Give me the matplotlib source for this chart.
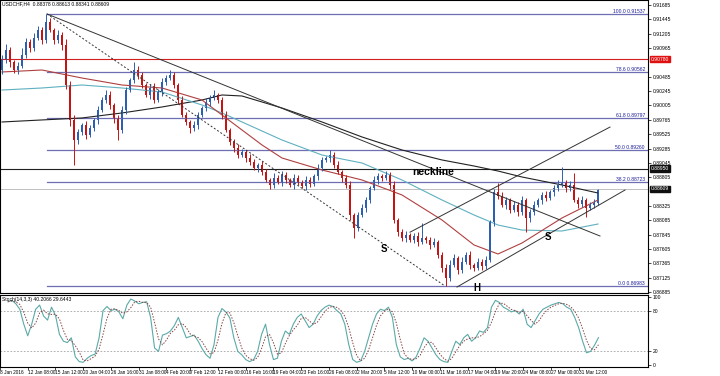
import numpy as np
import pandas as pd
import matplotlib
matplotlib.use("Agg")
import matplotlib.pyplot as plt

# USDCHF H4 closes
first_open = 0.90599
closes = [
    0.90767, 0.90934, 0.90733, 0.90599, 0.90666, 0.90850, 0.91068, 0.90967, 0.91135, 0.91269,
    0.91101, 0.91403, 0.91269, 0.91101, 0.91185, 0.91018, 0.90348, 0.89763, 0.89427, 0.89561,
    0.89679, 0.89511, 0.89628, 0.89763, 0.89930, 0.90097, 0.90181, 0.90013, 0.89796, 0.89595,
    0.89930, 0.90264, 0.90432, 0.90599, 0.90516, 0.90348, 0.90181, 0.90298, 0.90097, 0.90231,
    0.90398, 0.90465, 0.90516, 0.90348, 0.90097, 0.89846, 0.89729, 0.89628, 0.89679, 0.89846,
    0.89963, 0.90064, 0.90131, 0.90181, 0.90097, 0.89846, 0.89595, 0.89394, 0.89293, 0.89176,
    0.89226, 0.89126, 0.89059, 0.88959, 0.89009, 0.88892, 0.88758, 0.88674, 0.88791, 0.88724,
    0.88841, 0.88758, 0.88674, 0.88791, 0.88724, 0.88657, 0.88758, 0.88691, 0.88825, 0.88959,
    0.89093, 0.89126, 0.89176, 0.89009, 0.88892, 0.88791, 0.88674, 0.88172, 0.87954, 0.88172,
    0.88289, 0.88423, 0.88624, 0.88758, 0.88825, 0.88791, 0.88841, 0.88674, 0.88088, 0.87887,
    0.87787, 0.87837, 0.87753, 0.87820, 0.87720, 0.87787, 0.87753, 0.87670, 0.87720, 0.87502,
    0.87285, 0.87117, 0.87335, 0.87452, 0.87251, 0.87385, 0.87502, 0.87335, 0.87285, 0.87385,
    0.87318, 0.87418, 0.88055, 0.88557, 0.88490, 0.88339, 0.88423, 0.88256, 0.88339, 0.88222,
    0.88423, 0.88122, 0.88222, 0.88339, 0.88423, 0.88507, 0.88456, 0.88557, 0.88624, 0.88674,
    0.88707, 0.88624, 0.88674, 0.88423, 0.88356, 0.88423, 0.88289, 0.88339, 0.88378, 0.88609,
]
# wick lengths in pips above / below the body
wick_up = [
    8, 10, 5, 4, 6, 12, 6, 5, 8, 6,
    5, 14, 6, 4, 8, 5, 10, 6, 8, 5,
    4, 6, 5, 4, 6, 5, 8, 6, 4, 5,
    6, 5, 4, 13, 6, 5, 4, 6, 8, 5,
    6, 5, 8, 5, 4, 6, 5, 4, 6, 5,
    4, 6, 5, 8, 4, 5, 6, 4, 5, 6,
    5, 4, 6, 5, 4, 6, 5, 4, 8, 5,
    6, 5, 4, 6, 5, 4, 6, 5, 4, 6,
    5, 4, 8, 5, 6, 4, 5, 6, 4, 5,
    6, 5, 4, 6, 5, 4, 7, 5, 6, 4,
    5, 6, 4, 5, 6, 25, 4, 5, 6, 4,
    5, 6, 8, 6, 4, 8, 5, 6, 4, 6,
    5, 6, 4, 5, 15, 6, 5, 4, 6, 5,
    6, 4, 5, 6, 4, 5, 6, 4, 5, 8,
    27, 5, 6, 20, 5, 6, 4, 5, 6, 0.4,
]
wick_dn = [
    6, 5, 8, 5, 6, 4, 5, 6, 5, 4,
    6, 5, 4, 6, 5, 8, 6, 10, 42, 6,
    5, 6, 4, 5, 6, 4, 5, 6, 8, 17,
    5, 6, 4, 5, 6, 5, 4, 6, 5, 4,
    6, 5, 4, 5, 6, 4, 5, 8, 5, 6,
    4, 5, 6, 4, 5, 6, 4, 5, 6, 5,
    4, 6, 5, 4, 6, 5, 4, 6, 5, 4,
    6, 5, 4, 6, 5, 4, 6, 5, 4, 6,
    5, 4, 6, 5, 4, 6, 5, 8, 17, 5,
    4, 6, 5, 4, 6, 5, 4, 6, 5, 6,
    5, 6, 4, 5, 6, 4, 5, 6, 4, 5,
    6, 13, 5, 4, 6, 5, 4, 6, 5, 4,
    6, 5, 4, 6, 5, 4, 6, 5, 4, 6,
    5, 23, 6, 5, 4, 6, 5, 4, 6, 5,
    4, 6, 5, 4, 6, 5, 15, 4, 5, 3.7,
]

# moving averages, sampled at these bars
ma_idx = [0, 10, 20, 30, 40, 50, 55, 60, 65, 70, 80, 90, 100, 110, 118, 124, 130, 140, 149]
ma_red = [0.90566, 0.90599, 0.90465, 0.90348, 0.90298, 0.90097, 0.89846, 0.89595, 0.89344,
          0.89126, 0.88925, 0.88758, 0.88507, 0.88088, 0.87670, 0.87519, 0.87703, 0.88122,
          0.88423]
ma_teal = [0.90264, 0.90298, 0.90348, 0.90298, 0.90231, 0.90013, 0.89880, 0.89729, 0.89578,
           0.89427, 0.89176, 0.89042, 0.88758, 0.88423, 0.88172, 0.88004, 0.87920, 0.87904,
           0.88021]
ma_black = [0.89729, 0.89763, 0.89796, 0.89880, 0.89980, 0.90097, 0.90181, 0.90164, 0.90064,
            0.89963, 0.89729, 0.89478, 0.89260, 0.89093, 0.88992, 0.88908, 0.88808, 0.88674,
            0.88540]

# Stoch(14,3,3) main line
stoch_k = [
    93, 95, 90, 82, 60, 43, 60, 82, 88, 72,
    66, 85, 73, 45, 35, 33, 40, 12, 5, 4,
    10, 14, 16, 40, 80, 86, 80, 82, 78, 68,
    88, 97, 94, 90, 92, 93, 70, 25, 20, 44,
    46, 50, 58, 70, 55, 40, 42, 44, 35, 24,
    15, 10, 30, 70, 83, 78, 69, 40, 20, 15,
    8, 5, 8, 20, 45, 60, 30, 8, 10, 35,
    50, 45, 60, 70, 75, 65, 55, 60, 72, 80,
    85, 88, 86, 80, 75, 60, 30, 8, 4, 6,
    20, 40, 60, 75, 82, 80, 85, 70, 30, 12,
    8, 10, 6, 12, 25, 40, 35, 25, 15, 8,
    5, 4, 20, 35, 30, 40, 45, 35, 40, 50,
    48, 55, 85, 95, 92, 85, 82, 78, 80, 75,
    82, 60, 55, 65, 75, 82, 85, 88, 90, 92,
    90, 85, 82, 70, 55, 35, 18, 20, 29, 40.2,
]
stoch_title = "Stoch(14,3,3) 40.2066 29.6443"

# drawn objects: fibo, trend lines, horizontal lines
fib_high = 0.91537
fib_low = 0.86983
fib_levels = [100.0, 78.6, 61.8, 50.0, 38.2, 0.0]
fib_start = 11.25
trend_down = ([11.25, 149.5], [0.91537, 0.87820])
channel_dot = ([11.25, 110.75], [0.91537, 0.86983])
rise_upper = ([102.0, 152.0], [0.87884, 0.89644])
rise_lower = ([113.75, 155.75], [0.86966, 0.88590])
line_red = 0.90780
line_black = 0.88950
last_price = 0.88609

price_ticks = [0.86885, 0.87125, 0.87365, 0.87605, 0.87845, 0.88085, 0.88325, 0.88805,
               0.89045, 0.89285, 0.89525, 0.89765, 0.90005, 0.90245, 0.90485, 0.90965,
               0.91205, 0.91445, 0.91685]
date_ticks = [-2, 5, 12, 19, 26, 33, 40, 46, 53, 60, 67, 74, 81, 88, 95, 102, 109, 116,
              123, 130, 137, 144]
date_labels = ["8 Jan 2016", "12 Jan 08:00", "15 Jan 12:00", "20 Jan 04:00", "26 Jan 16:00",
               "31 Jan 08:00", "4 Feb 20:00", "7 Feb 12:00", "12 Feb 00:00", "16 Feb 16:00",
               "19 Feb 04:00", "23 Feb 16:00", "26 Feb 08:00", "2 Mar 20:00", "5 Mar 12:00",
               "10 Mar 00:00", "11 Mar 16:00", "17 Mar 04:00", "19 Mar 20:00", "24 Mar 08:00",
               "27 Mar 00:00", "31 Mar 12:00"]

BULL = "#2d5fb0"
BEAR = "#c41414"
FIB = "#6e6eb4"
SMALL = 3.6

plt.rcParams["font.family"] = ["Liberation Sans", "DejaVu Sans"]
fig = plt.figure(figsize=(7.2, 3.76), dpi=100)
ax = fig.add_axes([0, 1 - 293 / 376, 0.9, 293 / 376])
ax2 = fig.add_axes([0, 9 / 376, 0.9, 72 / 376])

closes = np.array(closes)
opens = np.concatenate([[first_open], closes[:-1]])
highs = np.maximum(opens, closes) + np.array(wick_up) * 1e-4
lows = np.minimum(opens, closes) - np.array(wick_dn) * 1e-4
x = np.arange(len(closes))
cols = np.where(closes >= opens, BULL, BEAR)

# horizontal lines first so candles sit on top
for r in fib_levels:
    lvl = fib_low + (fib_high - fib_low) * r / 100
    ax.plot([fib_start, 161.5], [lvl, lvl], color=FIB, lw=0.9)
    ax.text(160.7, lvl + 0.00006, f"{r:.1f} {lvl:.5f}", fontsize=SMALL, color="#1c1c9c",
            ha="right", va="bottom")
ax.axhline(line_red, color="#d02020", lw=0.8)
ax.axhline(line_black, color="#202020", lw=0.8)
ax.axhline(last_price, color="#c0c0c0", lw=0.7)

ax.plot(ma_idx, ma_black, color="#222222", lw=0.8)
ax.plot(ma_idx, ma_teal, color="#5fb0c0", lw=0.8)
ax.plot(ma_idx, ma_red, color="#b04040", lw=0.8)

ax.vlines(x, lows, highs, colors=cols, lw=0.7)
ax.bar(x, np.abs(closes - opens) + 0.00003, bottom=np.minimum(opens, closes), width=0.6,
       color=cols, linewidth=0)

ax.plot(*trend_down, color="#333333", lw=0.7)
ax.plot(*channel_dot, color="#333333", lw=0.7, ls=(0, (2, 2)))
ax.plot(*rise_upper, color="#333333", lw=0.7)
ax.plot(*rise_lower, color="#333333", lw=0.7)

ax.text(102.5, 0.8889, "neckline", fontsize=7.5, fontweight="bold", va="center")
ax.text(95.5, 0.8760, "S", fontsize=7, fontweight="bold", ha="center", va="center")
ax.text(136.5, 0.8781, "S", fontsize=7, fontweight="bold", ha="center", va="center")
ax.text(118.8, 0.8695, "H", fontsize=7, fontweight="bold", ha="center", va="center")

ax.text(0.003, 0.995, "USDCHF,H4  0.88378 0.88613 0.88341 0.88609", transform=ax.transAxes,
        fontsize=SMALL, va="top")

ax.set_xlim(-0.5, 161.5)
ax.set_ylim(0.86866, 0.91771)
ax.yaxis.tick_right()
ax.set_yticks(price_ticks)
ax.set_yticklabels([f"{p:.5f}" for p in price_ticks])
ax.tick_params(axis="y", labelsize=SMALL, length=2, width=0.5, pad=1.5)
ax.set_xticks([])
for s in ax.spines.values():
    s.set_linewidth(0.8)

for val, fc in [(line_red, "#e01010"), (line_black, "#101010"), (last_price, "#101010")]:
    ax.annotate(f"{val:.5f}", xy=(1.0, val), xycoords=("axes fraction", "data"),
                xytext=(2, 0), textcoords="offset points", fontsize=SMALL, color="white",
                va="center", ha="left",
                bbox=dict(boxstyle="square,pad=0.15", fc=fc, ec=fc))

# stochastic panel
k = pd.Series(stoch_k)
d = k.rolling(3, min_periods=1).mean()
ax2.axhline(80, color="#a0a0a0", lw=0.6, ls=(0, (2, 2)))
ax2.axhline(20, color="#a0a0a0", lw=0.6, ls=(0, (2, 2)))
ax2.plot(x, k, color="#5aaaa8", lw=0.8)
ax2.plot(x, d, color="#884444", lw=0.7, ls=(0, (1.5, 1.5)))
ax2.text(0.003, 0.97, stoch_title, transform=ax2.transAxes, fontsize=SMALL, va="top")
ax2.set_xlim(-0.5, 161.5)
ax2.set_ylim(-2.9, 102.9)
ax2.yaxis.tick_right()
ax2.set_yticks([0, 20, 80, 100])
ax2.tick_params(axis="y", labelsize=SMALL, length=2, width=0.5, pad=1.5)
ax2.set_xticks(date_ticks)
ax2.set_xticklabels(date_labels, ha="left")
ax2.tick_params(axis="x", labelsize=3.4, length=2, width=0.5, pad=0.5)
for s in ax2.spines.values():
    s.set_linewidth(0.8)

fig.savefig("out.png", dpi=100)
